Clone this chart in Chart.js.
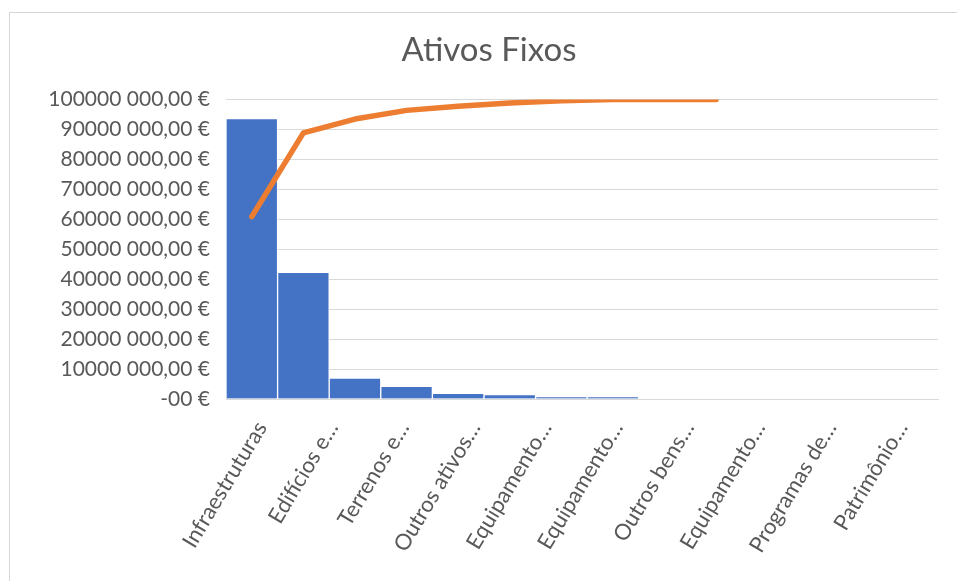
<!DOCTYPE html>
<html>
<head>
<meta charset="utf-8">
<script src="https://cdn.jsdelivr.net/npm/chart.js@4.4.1/dist/chart.umd.min.js"></script>
<style>
	body { margin:0; background:#fff; }
	#wrap { position:absolute; left:0; top:0; width:957px; height:581px; }
	#frame { position:absolute; left:9px; top:12px; right:0; bottom:0; border-top:1px solid #d6d6d6; border-left:1px solid #d6d6d6; }
</style>
</head>
<body>
<div id="wrap">
	<div id="frame"></div>
	<canvas id="chart"></canvas>
</div>
<script>
var categories = ['Infraestruturas','Edifícios e…','Terrenos e…','Outros ativos…','Equipamento…','Equipamento…','Outros bens…','Equipamento…','Programas de…','Patrimônio…'];
var assetValues = [93700000, 42300000, 7000000, 4200000, 1900000, 1450000, 800000, 750000, 0, 0];
var cumulativePct = [60.9, 88.9, 93.5, 96.4, 97.8, 98.9, 99.6, 100, 100, 100];
var yTickLabels = ['-00 €','10000 000,00 €','20000 000,00 €','30000 000,00 €','40000 000,00 €','50000 000,00 €','60000 000,00 €','70000 000,00 €','80000 000,00 €','90000 000,00 €','100000 000,00 €'];

var textColor = '#595959';
var gridColor = '#d9d9d9';

// bars and line share a hidden linear axis, the labels sit on their own category axis
var barPoints = assetValues.map(function(v,i){ return {x:i, y:v}; });
var linePoints = cumulativePct.map(function(v,i){ return {x:i, y:v}; });

new Chart(document.getElementById('chart').getContext('2d'), {
	data: {
		labels: categories,
		datasets: [
			{
				type:'line', data:linePoints, xAxisID:'x2', yAxisID:'y1', order:0,
				borderColor:'#ed7d31', borderWidth:5.5, pointRadius:0, tension:0,
				borderCapStyle:'round', borderJoinStyle:'round', fill:false
			},
			{
				type:'bar', data:barPoints, xAxisID:'x2', yAxisID:'y', order:1,
				backgroundColor:'#4472c4', borderColor:'#ffffff', borderWidth:1,
				barPercentage:1, categoryPercentage:1
			}
		]
	},
	options: {
		responsive:true, maintainAspectRatio:false, animation:false, devicePixelRatio:1,
		layout:{ padding:{ left:40, right:19, top:0, bottom:0 } },
		plugins:{
			legend:{ display:false },
			tooltip:{ enabled:false },
			title:{
				display:true, text:'Ativos Fixos', color:textColor,
				font:{ family:'Lato', size:33, weight:'normal' },
				padding:{ top:31, bottom:29 }
			}
		},
		scales:{
			x:{
				type:'category', labels:categories, offset:true, position:'bottom',
				grid:{ display:false, drawTicks:false },
				border:{ display:true, color:gridColor },
				ticks:{ color:textColor, font:{ family:'Lato', size:22 }, minRotation:59, maxRotation:59, autoSkip:false, padding:18 },
				afterFit:function(s){ s.height = 182; }
			},
			x2:{
				type:'linear', display:false, offset:false, min:-0.5, max:13.3,
				grid:{ offset:false },
				ticks:{ stepSize:1, includeBounds:false }
			},
			y:{
				type:'linear', position:'left', min:0, max:100000000,
				grid:{ color:gridColor, drawTicks:false },
				border:{ display:false },
				ticks:{
					stepSize:10000000, color:textColor, padding:16,
					font:{ family:'Lato', size:21 },
					callback:function(v,i){ return yTickLabels[i]; }
				},
				afterFit:function(s){ s.width = 186; }
			},
			y1:{ type:'linear', display:false, min:0, max:100 }
		}
	}
});
</script>
</body>
</html>
